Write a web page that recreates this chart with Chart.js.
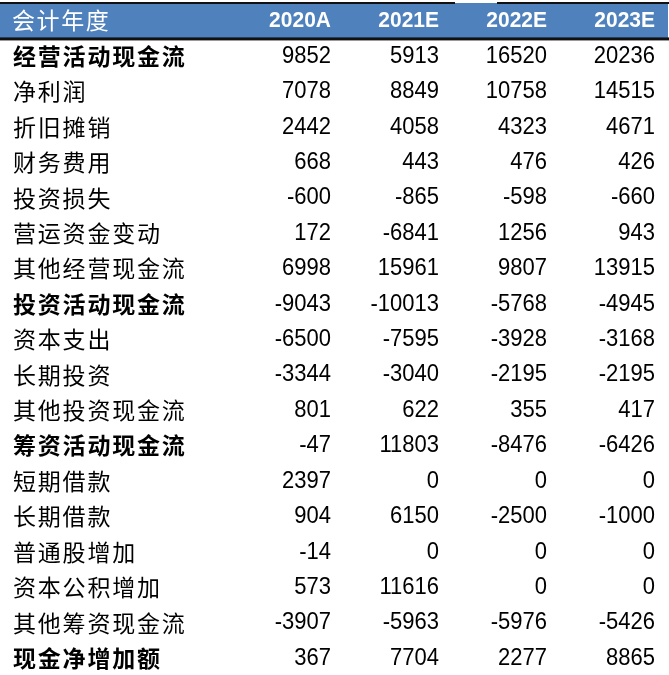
<!DOCTYPE html>
<html>
<head>
<meta charset="utf-8">
<script src="https://cdn.jsdelivr.net/npm/chart.js@4"></script>
<style>
  html, body { margin: 0; padding: 0; background: #ffffff; }
  #wrap { width: 669px; height: 675px; }
</style>
</head>
<body>
<div id="wrap"><canvas id="c" width="669" height="675"></canvas></div>
<script>
// ---- data ----
const headerLabel = '会计年度';
const years = ['2020A', '2021E', '2022E', '2023E'];
const categories = [
  '经营活动现金流', '净利润', '折旧摊销', '财务费用', '投资损失', '营运资金变动', '其他经营现金流',
  '投资活动现金流', '资本支出', '长期投资', '其他投资现金流',
  '筹资活动现金流', '短期借款', '长期借款', '普通股增加', '资本公积增加', '其他筹资现金流',
  '现金净增加额'
];
const values2020A = [9852, 7078, 2442, 668, -600, 172, 6998, -9043, -6500, -3344, 801, -47, 2397, 904, -14, 573, -3907, 367];
const values2021E = [5913, 8849, 4058, 443, -865, -6841, 15961, -10013, -7595, -3040, 622, 11803, 0, 6150, 0, 11616, -5963, 7704];
const values2022E = [16520, 10758, 4323, 476, -598, 1256, 9807, -5768, -3928, -2195, 355, -8476, 0, -2500, 0, 0, -5976, 2277];
const values2023E = [20236, 14515, 4671, 426, -660, 943, 13915, -4945, -3168, -2195, 417, -6426, 0, -1000, 0, 0, -5426, 8865];
const boldRows = ['经营活动现金流', '投资活动现金流', '筹资活动现金流', '现金净增加额'];

const seriesValues = [values2020A, values2021E, values2022E, values2023E];

// ---- layout (column slots on a hidden linear x scale) ----
const LABEL_COL = 0;
const FIRST_NUM_COL = 3; // right edge of first numeric column
const CN_FONT = '"Noto Sans CJK SC", "Noto Sans CJK JP", sans-serif';
const NUM_FONT = '"Liberation Sans", Arial, sans-serif';
const BLUE = '#4F81BD';

const datasets = [];
// header row
datasets.push({
  label: 'header',
  kind: 'header',
  data: [{ x: LABEL_COL, y: headerLabel, t: headerLabel, align: 'left' }]
    .concat(years.map((yr, j) => ({ x: FIRST_NUM_COL + j, y: headerLabel, t: yr, align: 'right' })))
});
// row labels
datasets.push({
  label: 'rows',
  kind: 'rowlabel',
  data: categories.map(c => ({ x: LABEL_COL, y: c, t: c, align: 'left' }))
});
// value columns
years.forEach((yr, j) => {
  datasets.push({
    label: yr,
    kind: 'value',
    data: categories.map((c, i) => ({ x: FIRST_NUM_COL + j, y: c, t: String(seriesValues[j][i]), align: 'right' }))
  });
});
datasets.forEach(d => { d.pointRadius = 0; d.pointHoverRadius = 0; d.showLine = false; });

const tablePlugin = {
  id: 'tablePlugin',
  beforeDatasetsDraw(chart) {
    const ctx = chart.ctx;
    const ys = chart.scales.y;
    const y0 = ys.getPixelForValue(0);
    const band = ys.getPixelForValue(1) - y0;
    const top = y0 - band / 2;
    const bottom = y0 + band / 2;
    const W = chart.width;
    ctx.save();
    ctx.fillStyle = BLUE;
    ctx.fillRect(0, top + 1, W - 1, bottom - top);
    ctx.fillStyle = '#111111';
    // top rule (with small gap as in reference)
    ctx.fillRect(0, top, 455, 2);
    ctx.fillRect(497, top, W - 497, 2);
    // bottom rule under header
    ctx.fillRect(0, bottom, W, 3);
    ctx.restore();
  },
  afterDatasetsDraw(chart) {
    const ctx = chart.ctx;
    ctx.save();
    ctx.textBaseline = 'middle';
    chart.data.datasets.forEach((ds, di) => {
      const meta = chart.getDatasetMeta(di);
      meta.data.forEach((el, k) => {
        const raw = ds.data[k];
        let font, color = '#000000', dx = 0, sy = 1, spacing = '0px';
        if (ds.kind === 'header') {
          color = '#ffffff';
          if (raw.align === 'left') { font = '400 23px ' + CN_FONT; spacing = '1.6px'; dx = 5; }
          else { font = 'bold 21px ' + NUM_FONT; sy = 1.05; }
        } else if (ds.kind === 'rowlabel') {
          const b = boldRows.includes(raw.t);
          font = (b ? '700 ' : '400 ') + '23px ' + CN_FONT;
          spacing = '1.8px';
          dx = 6;
        } else {
          font = '400 22px ' + NUM_FONT;
          sy = 1.08;
        }
        ctx.font = font;
        ctx.fillStyle = color;
        ctx.textAlign = raw.align;
        try { ctx.letterSpacing = spacing; } catch (e) {}
        ctx.save();
        ctx.translate(el.x + dx, el.y + 1);
        ctx.scale(1, sy);
        ctx.fillText(raw.t, 0, 0);
        ctx.restore();
      });
    });
    ctx.restore();
  }
};

new Chart(document.getElementById('c'), {
  type: 'scatter',
  data: { datasets },
  options: {
    responsive: false,
    animation: false,
    events: [],
    layout: { padding: { left: 7, right: 14, top: 2, bottom: 0 } },
    plugins: { legend: { display: false }, tooltip: { enabled: false } },
    scales: {
      x: { type: 'linear', min: 0, max: 6, display: false },
      y: { type: 'category', labels: [headerLabel].concat(categories), offset: true, display: false }
    }
  },
  plugins: [tablePlugin]
});
</script>
</body>
</html>
